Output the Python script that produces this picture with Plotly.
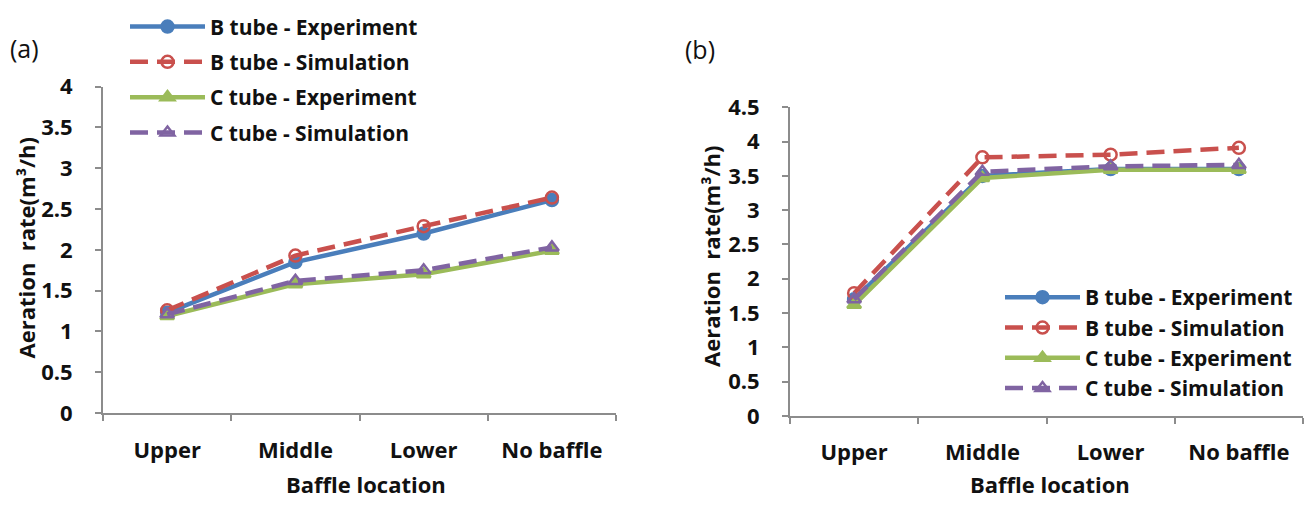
import plotly.graph_objects as go

categories = ["Upper", "Middle", "Lower", "No baffle"]

# Panel (a)
a_b_exp = [1.23, 1.85, 2.20, 2.61]
a_b_sim = [1.26, 1.93, 2.29, 2.64]
a_c_exp = [1.19, 1.58, 1.70, 1.99]
a_c_sim = [1.21, 1.62, 1.75, 2.03]

# Panel (b)
b_b_exp = [1.70, 3.50, 3.60, 3.60]
b_b_sim = [1.79, 3.77, 3.81, 3.91]
b_c_exp = [1.62, 3.47, 3.59, 3.59]
b_c_sim = [1.70, 3.56, 3.64, 3.66]

names = ["B tube - Experiment", "B tube - Simulation", "C tube - Experiment", "C tube - Simulation"]
colors = ["#4A7EBB", "#C9504D", "#9BBB59", "#8064A2"]
symbols = ["circle", "circle-open", "triangle-up", "triangle-up-open"]
dashes = ["solid", "18px,9px", "solid", "18px,9px"]

FONT = "Open Sans"
TXT = "#111111"
fig = go.Figure()

panels = [
    ([a_b_exp, a_b_sim, a_c_exp, a_c_sim], "x", "y", "legend"),
    ([b_b_exp, b_b_sim, b_c_exp, b_c_sim], "x2", "y2", "legend2"),
]
for series, xa, ya, lg in panels:
    for i in range(4):
        fig.add_trace(go.Scatter(
            x=categories, y=series[i], name=names[i], mode="lines+markers",
            xaxis=xa, yaxis=ya, legend=lg, legendgroup=lg + str(i),
            legendrank=i,
            line=dict(color=colors[i], width=4.5, dash=dashes[i]),
            marker=dict(symbol=symbols[i], size=12, color=colors[i],
                        line=dict(width=2.5, color=colors[i])),
        ))

axis_common = dict(showgrid=False, zeroline=False, showline=True, linecolor="#8C8C8C", linewidth=2,
                   ticks="outside", tickcolor="#8C8C8C", ticklen=6, tickwidth=2,
                   tickfont=dict(family=FONT, size=22, color=TXT, weight="bold"))

legend_font = dict(family=FONT, size=21, color=TXT, weight="bold")
legend_common = dict(xanchor="left", yanchor="top", bgcolor="rgba(0,0,0,0)",
                     font=legend_font, itemwidth=75)

fig.update_layout(
    width=1311, height=509, margin=dict(l=0, r=0, t=0, b=0),
    paper_bgcolor="white", plot_bgcolor="white",
    xaxis=dict(domain=[0.0786, 0.4699], anchor="y", type="category", tickson="boundaries",
               range=[-0.5, 3.5], ticklabelstandoff=16, **axis_common),
    yaxis=dict(domain=[0.1709, 0.8527], anchor="x", range=[0, 4], dtick=0.5,
               ticklabelstandoff=18, **axis_common),
    xaxis2=dict(domain=[0.6026, 0.9939], anchor="y2", type="category", tickson="boundaries",
                range=[-0.5, 3.5], ticklabelstandoff=16, **axis_common),
    yaxis2=dict(domain=[0.165, 0.8094], anchor="x2", range=[0, 4.5], dtick=0.5,
                ticklabelstandoff=18, **axis_common),
    legend=dict(x=125 / 1311, y=1.02, tracegroupgap=5, **legend_common),
    legend2=dict(x=1000 / 1311, y=0.455, tracegroupgap=0, **legend_common),
    showlegend=True,
)

ann_font = dict(family=FONT, size=22, color=TXT, weight="bold")
annotations = [
    dict(text="Aeration  rate(m³/h)", textangle=-90, x=26 / 1311, y=1 - 247 / 509, font=ann_font),
    dict(text="Aeration  rate(m³/h)", textangle=-90, x=711 / 1311, y=1 - 256 / 509, font=ann_font),
    dict(text="Baffle location", x=366 / 1311, y=1 - 497 / 509, font=ann_font),
    dict(text="Baffle location", x=1050 / 1311, y=1 - 497 / 509, font=ann_font),
    dict(text="(a)", x=24 / 1311, y=1 - 34 / 509, font=dict(family=FONT, size=25, color=TXT)),
    dict(text="(b)", x=700 / 1311, y=1 - 35 / 509, font=dict(family=FONT, size=25, color=TXT)),
]
for a in annotations:
    fig.add_annotation(xref="paper", yref="paper", showarrow=False, xanchor="center", yanchor="middle", **a)

fig.write_html("out.html")
